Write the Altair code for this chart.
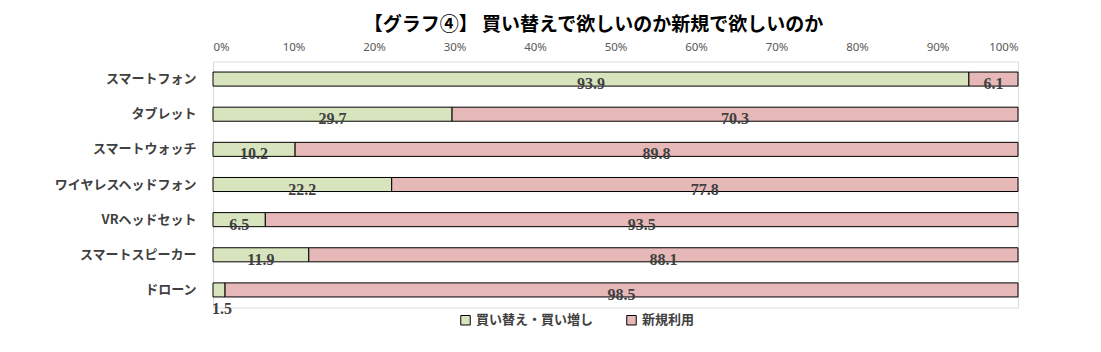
import altair as alt
import pandas as pd

categories = ["スマートフォン", "タブレット", "スマートウォッチ", "ワイヤレスヘッドフォン",
              "VRヘッドセット", "スマートスピーカー", "ドローン"]
buy = [93.9, 29.7, 10.2, 22.2, 6.5, 11.9, 1.5]
new = [6.1, 70.3, 89.8, 77.8, 93.5, 88.1, 98.5]
series = ["買い替え・買い増し", "新規利用"]
colors = ["#d7e4bd", "#e6b9b8"]
ticks = [0, 10, 20, 30, 40, 50, 60, 70, 80, 90, 100]

rows = []
for c, b, n in zip(categories, buy, new):
    rows.append({"cat": c, "series": series[0], "value": b, "order": 0})
    rows.append({"cat": c, "series": series[1], "value": n, "order": 1})
df = pd.DataFrame(rows)

JP = "Noto Sans CJK JP"
NUM = "Liberation Serif"

base = alt.Chart(df).transform_stack(
    stack="value", groupby=["cat"], sort=[alt.SortField("order")], as_=["x0", "x1"]
).transform_calculate(mid="(datum.x0 + datum.x1) / 2")

yenc = alt.Y("cat:N", sort=categories,
             scale=alt.Scale(paddingInner=0.6, paddingOuter=0.3),
             axis=alt.Axis(title=None, ticks=False, domain=True, domainColor="#d9d9d9",
                           labelFont=JP, labelFontSize=13, labelFontWeight="bold",
                           labelColor="#404040", labelPadding=17))

xscale = alt.Scale(domain=[0, 100], nice=False)

bars = base.mark_bar(stroke="black", strokeWidth=1).encode(
    x=alt.X("x0:Q", scale=xscale,
            axis=alt.Axis(orient="top", title=None, values=ticks, grid=False, domain=False,
                          ticks=False, labelExpr="datum.value + '%'", labelFont="Noto Sans",
                          labelFontSize=11.5, labelColor="#595959", labelPadding=9)),
    x2="x1:Q",
    y=yenc,
    color=alt.Color("series:N", scale=alt.Scale(domain=series, range=colors),
                    legend=alt.Legend(title=None, orient="none", direction="horizontal",
                                      legendX=246, legendY=252, symbolType="square",
                                      symbolSize=90, symbolStrokeColor="black",
                                      symbolStrokeWidth=1, labelFont=JP, labelFontSize=13,
                                      labelFontWeight="bold", labelColor="#404040",
                                      columnPadding=30, labelOffset=4)),
    order=alt.Order("order:Q"),
)

labels = base.transform_filter("datum.value >= 3").mark_text(
    font=NUM, fontSize=16, fontWeight="bold", color="#404040", dy=5
).encode(x=alt.X("mid:Q", scale=xscale), y=alt.Y("cat:N", sort=categories), text=alt.Text("value:Q", format=".1f"))

small = base.transform_filter("datum.value < 3").mark_text(
    font=NUM, fontSize=16, fontWeight="bold", color="#404040", dy=19, dx=3
).encode(x=alt.X("mid:Q", scale=xscale), y=alt.Y("cat:N", sort=categories), text=alt.Text("value:Q", format=".1f"))

chart = alt.layer(bars, labels, small).properties(
    width=805, height=246,
    title=alt.TitleParams("【グラフ④】 買い替えで欲しいのか新規で欲しいのか", font=JP, fontSize=19,
                          fontWeight="bold", color="#000000", anchor="middle", dx=-22, offset=7),
    autosize=alt.AutoSizeParams(type="none"),
    padding={"left": 213, "top": 61.5, "right": 83, "bottom": 44},
).configure_view(stroke=None).configure(background="white")

chart.save("out.html", embed_options={"renderer": "svg", "actions": False})
